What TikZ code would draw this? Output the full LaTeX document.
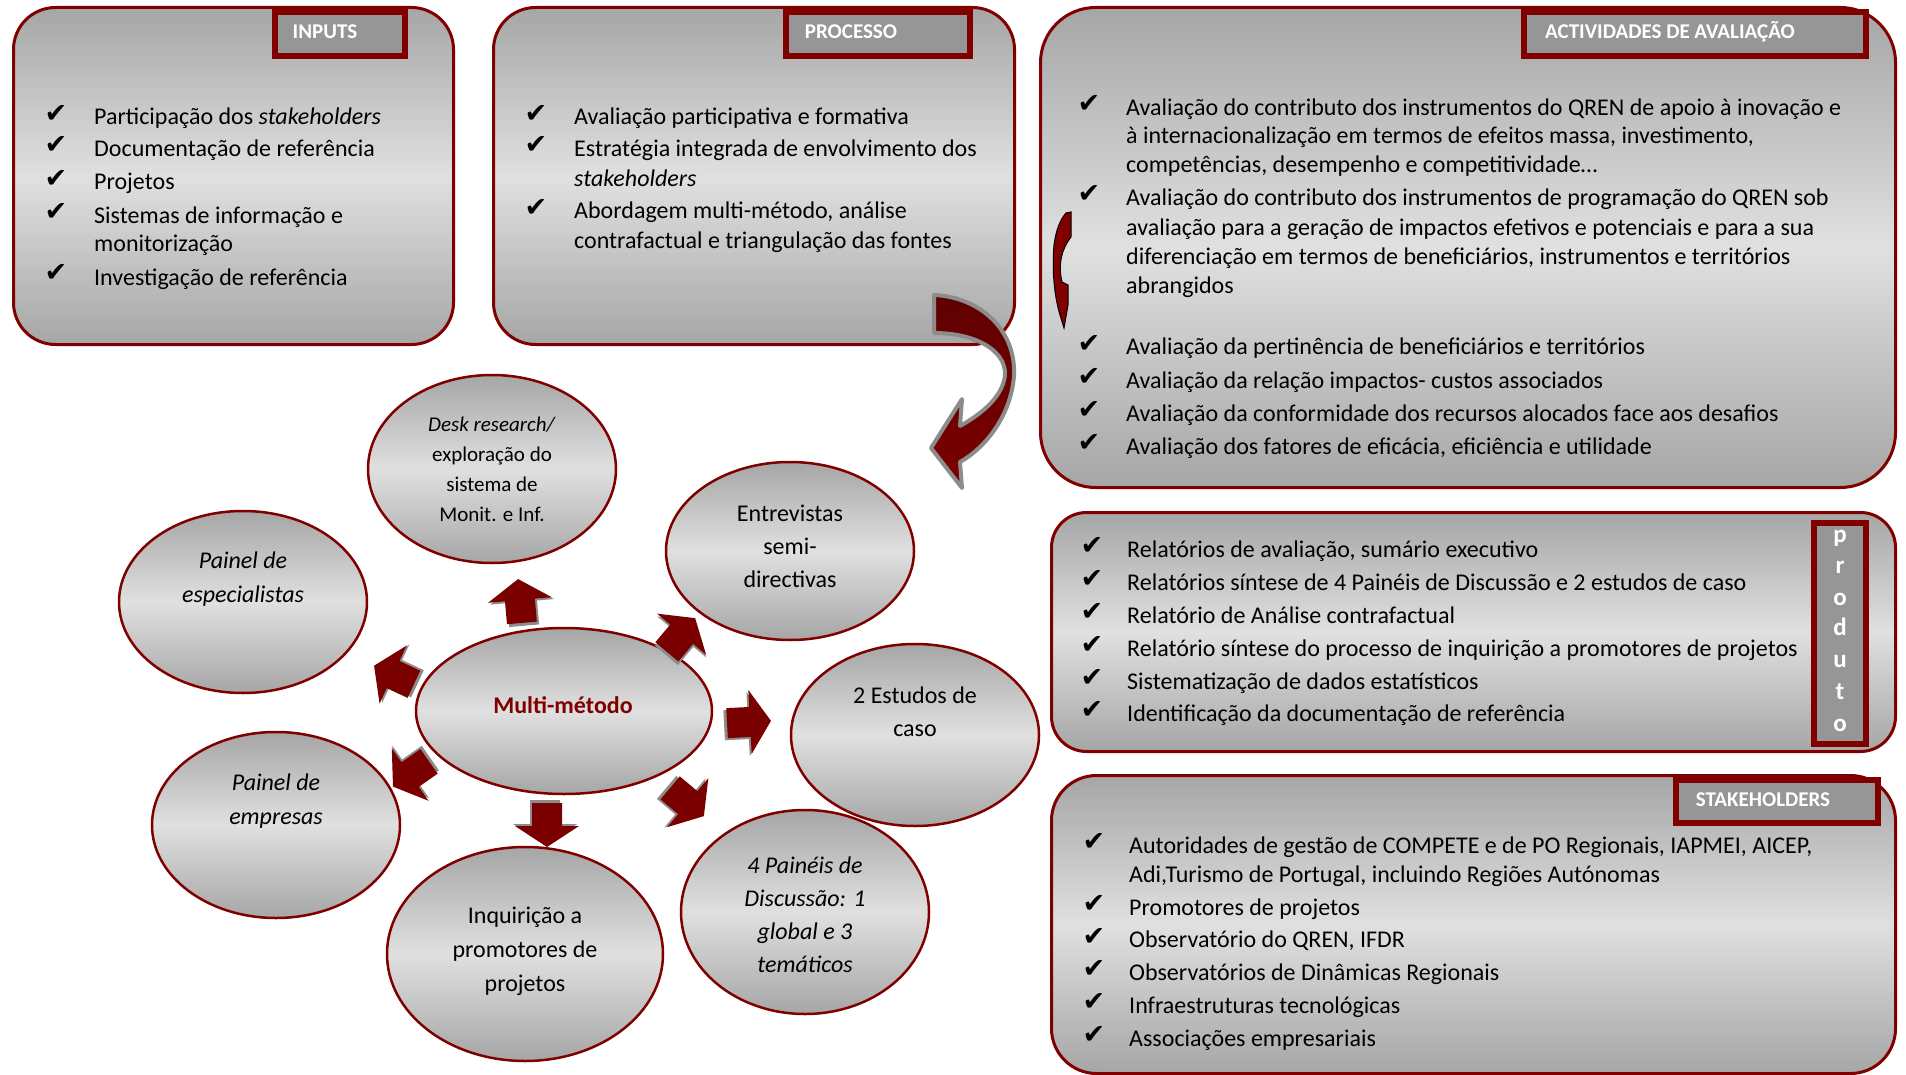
\documentclass[tikz,border=0pt]{standalone}
\usepackage{fontspec}
\setmainfont{Carlito}
\newfontfamily\symfont{DejaVu Sans}
\usetikzlibrary{shapes.geometric}

\definecolor{darkred}{RGB}{128,0,0}
\definecolor{arrowred}{RGB}{122,0,0}
\definecolor{arrowdark}{RGB}{96,0,0}
\definecolor{shadegray}{RGB}{166,166,166}
\definecolor{shadelight}{RGB}{224,224,224}
\definecolor{tabgray}{RGB}{150,150,150}
\definecolor{outlinegray}{RGB}{140,140,140}

\newcommand{\chk}{{\symfont ✔}}

\tikzset{
  panel/.style={draw=darkred, line width=3pt, anchor=north west, top color=shadegray, bottom color=shadegray, middle color=shadelight},
  tabbox/.style={draw=darkred, line width=6pt, fill=tabgray, anchor=north west},
  tabtext/.style={text=white, inner sep=0pt, font=\fontsize{21}{25}\selectfont\bfseries},
  lineitem/.style={anchor=mid west, inner sep=0pt, yshift=-7pt, font=\fontsize{24}{29}\selectfont},
  chkmk/.style={inner sep=0pt, yshift=-3pt, font=\fontsize{27}{30}\selectfont},
  oval/.style={ellipse, draw=darkred, line width=2.5pt, top color=shadegray, bottom color=shadegray, middle color=shadelight, inner sep=0pt},
  ovaltext/.style={align=center, inner sep=0pt, yshift=-2pt, font=\fontsize{24}{33}\selectfont},
  blockarrow/.pic={
    \fill[outlinegray] (-25,-13) -- (-1,-13) -- (-1,-30) -- (20,2) -- (-1,34) -- (-1,17) -- (-25,17) -- cycle;
    \fill[arrowred] (-22,-15) -- (1,-15) -- (1,-32) -- (22,0) -- (1,32) -- (1,15) -- (-22,15) -- cycle;
  },
}

\begin{document}
\begin{tikzpicture}[x=1pt,y=-1pt]
\useasboundingbox (0,0) rectangle (1906,1075);

% caixas
\node[panel, rounded corners=42pt, minimum width=440pt, minimum height=337pt] (inputs) at (12,6) {};
\node[panel, rounded corners=42pt, minimum width=521pt, minimum height=337pt] (processo) at (492,6) {};
\node[panel, rounded corners=55pt, minimum width=855pt, minimum height=480pt] (activ) at (1039,6) {};
\node[panel, rounded corners=35pt, minimum width=844pt, minimum height=239pt] (produto) at (1050,511) {};
\node[panel, rounded corners=45pt, minimum width=844pt, minimum height=298pt] (stake) at (1050,774) {};

% titulos
\node[tabbox, minimum width=130pt, minimum height=44pt] (inputs-tab) at (272,9) {};
\node[tabbox, minimum width=184pt, minimum height=44pt] (processo-tab) at (783,9) {};
\node[tabbox, minimum width=342pt, minimum height=44pt] (activ-tab) at (1521,9) {};
\node[tabbox, minimum width=202pt, minimum height=43pt] (stake-tab) at (1673,777) {};
\node[tabbox, minimum width=52pt, minimum height=221pt] (produto-tab) at (1811,520) {};
\node[tabtext] (inputs-lbl) at (325,32) {INPUTS};
\node[tabtext] (processo-lbl) at (851,32) {PROCESSO};
\node[tabtext] (activ-lbl) at (1670,32) {ACTIVIDADES DE AVALIAÇÃO};
\node[tabtext] (stake-lbl) at (1763,800) {STAKEHOLDERS};
\foreach \y/\l [count=\i] in {535/p,566/r,598/o,628/d,660/u,692/t,724/o}
  \node[tabtext, anchor=mid, yshift=-5pt, font=\fontsize{25}{29}\selectfont\bfseries] (prod-\i) at (1840,\y) {\l};

% inputs
\foreach \y [count=\i] in {111,142,176,209,270}
  \node[chkmk] (inp-c\i) at (56,\y) {\chk};
\foreach \y/\t [count=\i] in {115/{Participação dos \textit{stakeholders}}, 147/Documentação de referência,
    180/Projetos, 214/Sistemas de informação e, 242/monitorização, 276/Investigação de referência}
  \node[lineitem] (inp-\i) at (94,\y) {\t};

% processo
\foreach \y [count=\i] in {111,142,205}
  \node[chkmk] (proc-c\i) at (536,\y) {\chk};
\foreach \y/\t [count=\i] in {115/Avaliação participativa e formativa, 147/Estratégia integrada de envolvimento dos,
    177/\textit{stakeholders}, 209/{Abordagem multi-método, análise}, 239/contrafactual e triangulação das fontes}
  \node[lineitem] (proc-\i) at (574,\y) {\t};

% actividades de avaliacao
\foreach \y [count=\i] in {101,191,341,374,407,440}
  \node[chkmk] (act-c\i) at (1089,\y) {\chk};
\foreach \y/\t [count=\i] in {106/Avaliação do contributo dos instrumentos do QREN de apoio à inovação e,
    134/{à internacionalização em termos de efeitos massa, investimento,},
    163/{competências, desempenho e competitividade…},
    196/Avaliação do contributo dos instrumentos de programação do QREN sob,
    226/avaliação para a geração de impactos efetivos e potenciais e para a sua,
    255/{diferenciação em termos de beneficiários, instrumentos e territórios},
    284/abrangidos,
    345/Avaliação da pertinência de beneficiários e territórios,
    379/Avaliação da relação impactos- custos associados,
    412/Avaliação da conformidade dos recursos alocados face aos desafios,
    445/{Avaliação dos fatores de eficácia, eficiência e utilidade}}
  \node[lineitem] (act-\i) at (1126,\y) {\t};

% produto
\foreach \y [count=\i] in {543,576,609,642,675,707}
  \node[chkmk] (prd-c\i) at (1092,\y) {\chk};
\foreach \y/\t [count=\i] in {548/{Relatórios de avaliação, sumário executivo},
    581/Relatórios síntese de 4 Painéis de Discussão e 2 estudos de caso,
    614/Relatório de Análise contrafactual,
    647/Relatório síntese do processo de inquirição a promotores de projetos,
    680/Sistematização de dados estatísticos,
    712/Identificação da documentação de referência}
  \node[lineitem] (prd-\i) at (1127,\y) {\t};

% stakeholders
\foreach \y [count=\i] in {839,901,934,966,999,1032}
  \node[chkmk] (stk-c\i) at (1094,\y) {\chk};
\foreach \y/\t [count=\i] in {844/{Autoridades de gestão de COMPETE e de PO Regionais, IAPMEI, AICEP,},
    873/{Adi,Turismo de Portugal, incluindo Regiões Autónomas},
    906/Promotores de projetos,
    938/{Observatório do QREN, IFDR},
    971/Observatórios de Dinâmicas Regionais,
    1004/Infraestruturas tecnológicas,
    1037/Associações empresariais}
  \node[lineitem] (stk-\i) at (1129,\y) {\t};

% setas curvas
\draw[outlinegray, line width=4pt, line join=round, top color=arrowdark, bottom color=arrowred]
  (934,295) .. controls (980,297) and (1016,330) .. (1014,375)
  .. controls (1012,410) and (990,445) .. (960,462) -- (962,488) -- (931,448) -- (962,399) -- (960,426)
  .. controls (985,412) and (1003,395) .. (1005,375)
  .. controls (1006,350) and (975,333) .. (934,333) -- cycle;
\draw[black, line width=1pt, fill=darkred]
  (1066,213) -- (1071,212) -- (1071,237) .. controls (1061,250) and (1058,265) .. (1062,282)
  -- (1068,285) -- (1068,305) -- (1064,328) -- (1060,315)
  .. controls (1054,295) and (1052,270) .. (1054,245)
  .. controls (1056,230) and (1060,220) .. (1066,213) -- cycle;

% metodos
\node[oval, minimum width=248pt, minimum height=188pt] (desk) at (492,469) {};
\node[oval, minimum width=248pt, minimum height=182pt] (esp) at (243,602) {};
\node[oval, minimum width=248pt, minimum height=178pt] (entr) at (790,551) {};
\node[oval, minimum width=248pt, minimum height=182pt] (estudos) at (915,735) {};
\node[oval, minimum width=248pt, minimum height=186pt] (empresas) at (276,825) {};
\node[oval, minimum width=276pt, minimum height=214pt] (inquir) at (525,954) {};
\node[oval, minimum width=248pt, minimum height=204pt] (paineis) at (805,912) {};
\node[oval, minimum width=296pt, minimum height=166pt] (multi) at (564,711) {};

\node[ovaltext, font=\fontsize{21}{30}\selectfont] (desk-t) at (492,467) {\textit{Desk research/}\\exploração do\\sistema de\\Monit. e Inf.};
\node[ovaltext, font=\fontsize{24}{34}\selectfont\itshape] (esp-t) at (243,577) {Painel de\\especialistas};
\node[ovaltext] (entr-t) at (790,544) {Entrevistas\\semi-\\directivas};
\node[ovaltext] (estudos-t) at (915,710) {2 Estudos de\\caso};
\node[ovaltext, font=\fontsize{24}{34}\selectfont\itshape] (empresas-t) at (276,799) {Painel de\\empresas};
\node[ovaltext, font=\fontsize{24}{34}\selectfont] (inquir-t) at (525,949) {Inquirição a\\promotores de\\projetos};
\node[ovaltext, font=\fontsize{24}{33}\selectfont\itshape] (paineis-t) at (805,913) {4 Painéis de\\Discussão: 1\\global e 3\\temáticos};
\node[ovaltext, text=darkred, font=\fontsize{24}{29}\selectfont\bfseries] (multi-t) at (563,703) {Multi-método};

% setas do multi-metodo
\foreach \cx/\cy/\ang in {520/601/95, 681/635/50, 394/675/155, 749/722/3, 411/774/215, 547/825/270, 687/802/-40}
  \pic[rotate=\ang] at (\cx,\cy) {blockarrow};
\end{tikzpicture}
\end{document}
